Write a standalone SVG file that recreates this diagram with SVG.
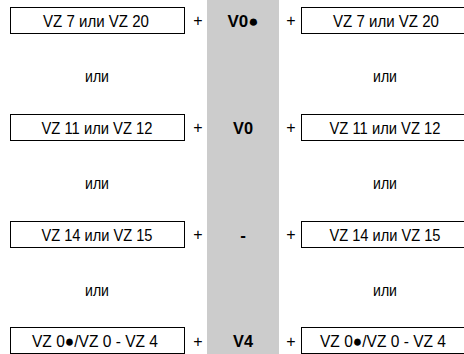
<svg xmlns="http://www.w3.org/2000/svg" width="464" height="354" viewBox="0 0 464 354">
<style>
.box{fill:#fff;stroke:#000;stroke-width:1}
.t{font-family:"Liberation Sans",Arial,sans-serif;font-size:17px;fill:#000;text-anchor:middle}
.p{font-family:"Liberation Sans",Arial,sans-serif;font-size:16px;fill:#000;text-anchor:middle}
.b{font-weight:bold}
</style>
<rect x="0" y="0" width="464" height="354" fill="#fff"/>
<rect id="column" x="207" y="0" width="72" height="354" fill="#cccccc"/>
<g id="connectors">
<text class="p" x="198" y="26">+</text><text class="p" x="291" y="26">+</text>
<text class="p" x="198" y="133">+</text><text class="p" x="291" y="133">+</text>
<text class="p" x="198" y="240">+</text><text class="p" x="291" y="240">+</text>
<text class="p" x="198" y="347">+</text><text class="p" x="291" y="347">+</text>
<text class="t" x="97" y="82" textLength="24" lengthAdjust="spacingAndGlyphs">или</text><text class="t" x="385" y="82" textLength="24" lengthAdjust="spacingAndGlyphs">или</text>
<text class="t" x="97" y="189" textLength="24" lengthAdjust="spacingAndGlyphs">или</text><text class="t" x="385" y="189" textLength="24" lengthAdjust="spacingAndGlyphs">или</text>
<text class="t" x="97" y="296" textLength="24" lengthAdjust="spacingAndGlyphs">или</text><text class="t" x="385" y="296" textLength="24" lengthAdjust="spacingAndGlyphs">или</text>
</g>
<g id="l1"><rect class="box" x="10.5" y="7.5" width="174" height="26"/><text class="t" x="96" y="26.5" textLength="106" lengthAdjust="spacingAndGlyphs">VZ 7 или VZ 20</text></g>
<g id="m1"><text class="t b" x="243" y="26.5" textLength="31" lengthAdjust="spacingAndGlyphs">V0●</text></g>
<g id="r1"><rect class="box" x="301.5" y="7.5" width="170" height="26"/><text class="t" x="386" y="26.5" textLength="106" lengthAdjust="spacingAndGlyphs">VZ 7 или VZ 20</text></g>
<g id="l2"><rect class="box" x="10.5" y="114.5" width="174" height="26"/><text class="t" x="97" y="133.5" textLength="111" lengthAdjust="spacingAndGlyphs">VZ 11 или VZ 12</text></g>
<g id="m2"><text class="t b" x="243" y="133.5" textLength="20" lengthAdjust="spacingAndGlyphs">V0</text></g>
<g id="r2"><rect class="box" x="301.5" y="114.5" width="170" height="26"/><text class="t" x="385" y="133.5" textLength="111" lengthAdjust="spacingAndGlyphs">VZ 11 или VZ 12</text></g>
<g id="l3"><rect class="box" x="10.5" y="221.5" width="174" height="26"/><text class="t" x="97" y="240.5" textLength="111" lengthAdjust="spacingAndGlyphs">VZ 14 или VZ 15</text></g>
<g id="m3"><text class="t b" x="243" y="240.5">-</text></g>
<g id="r3"><rect class="box" x="301.5" y="221.5" width="170" height="26"/><text class="t" x="385" y="240.5" textLength="111" lengthAdjust="spacingAndGlyphs">VZ 14 или VZ 15</text></g>
<g id="l4"><rect class="box" x="10.5" y="327.5" width="174" height="26"/><text class="t" x="95" y="347" textLength="126" lengthAdjust="spacingAndGlyphs">VZ 0●/VZ 0 - VZ 4</text></g>
<g id="m4"><text class="t b" x="243" y="347" textLength="20" lengthAdjust="spacingAndGlyphs">V4</text></g>
<g id="r4"><rect class="box" x="301.5" y="327.5" width="170" height="26"/><text class="t" x="383" y="347" textLength="126" lengthAdjust="spacingAndGlyphs">VZ 0●/VZ 0 - VZ 4</text></g>
</svg>
